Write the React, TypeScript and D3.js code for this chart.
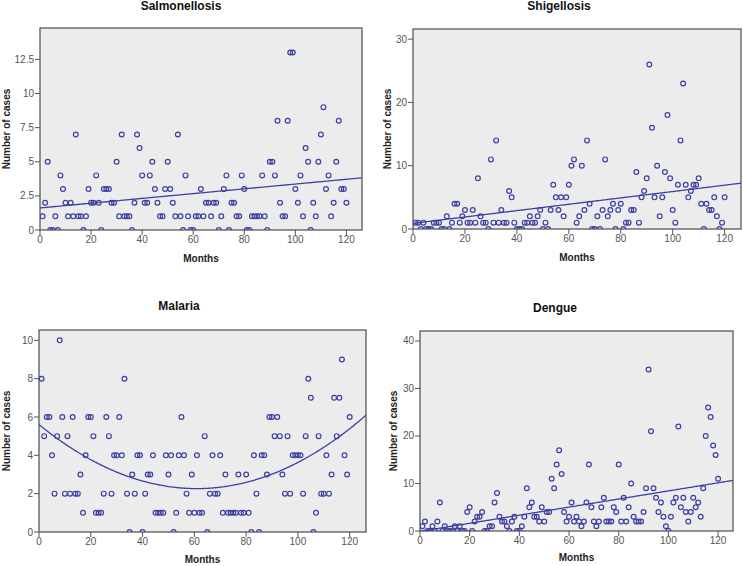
import React from 'react';
import * as d3 from 'd3';

// months 1..120 on the x axis
const months = d3.range(1, 121);

const salmonellosis = [
  1, 2, 5, 0, 0, 1, 0, 4, 3, 2, 1, 2, 1, 7, 1, 1, 0, 1, 3, 2,
  2, 4, 2, 0, 3, 3, 3, 2, 2, 5, 1, 7, 1, 1, 1, 0, 2, 7, 6, 4,
  2, 2, 4, 5, 3, 2, 1, 1, 3, 5, 3, 2, 1, 7, 1, 0, 4, 1, 0, 0,
  1, 1, 3, 1, 2, 2, 1, 2, 2, 0, 1, 3, 4, 0, 2, 2, 1, 1, 4, 3,
  0, 0, 1, 1, 1, 1, 4, 1, 0, 5, 5, 4, 8, 2, 1, 1, 8, 13, 13, 3,
  2, 4, 1, 6, 5, 0, 2, 1, 5, 7, 9, 3, 4, 1, 2, 5, 8, 3, 3, 2,
];

const shigellosis = [
  1, 1, 0, 1, 0, 0, 0, 1, 1, 1, 0, 0, 2, 0, 1, 4, 4, 1, 2, 3,
  1, 1, 3, 1, 8, 2, 1, 1, 0, 11, 1, 14, 1, 3, 1, 1, 6, 5, 1, 0,
  0, 0, 1, 1, 2, 1, 1, 2, 3, 0, 1, 0, 3, 7, 5, 3, 5, 2, 5, 7,
  10, 11, 1, 2, 10, 3, 14, 4, 0, 0, 2, 0, 3, 11, 2, 3, 4, 0, 3, 4,
  0, 1, 1, 3, 3, 9, 1, 5, 6, 8, 26, 16, 5, 10, 2, 5, 9, 18, 8, 3,
  1, 7, 14, 23, 7, 5, 6, 7, 7, 8, 4, 0, 4, 3, 3, 5, 2, 0, 1, 5,
];

const malaria = [
  8, 5, 6, 6, 4, 2, 5, 10, 6, 2, 5, 2, 6, 2, 2, 3, 1, 4, 6, 6,
  5, 1, 1, 1, 2, 6, 5, 2, 4, 4, 6, 4, 8, 2, 0, 3, 2, 4, 4, 0,
  2, 3, 3, 4, 1, 1, 1, 1, 4, 3, 4, 0, 1, 4, 6, 4, 2, 1, 3, 1,
  4, 1, 1, 5, 0, 2, 4, 2, 2, 4, 1, 3, 1, 1, 1, 1, 3, 1, 1, 3,
  1, 0, 4, 2, 0, 4, 4, 3, 6, 6, 5, 6, 5, 3, 2, 5, 2, 4, 4, 4,
  4, 2, 5, 8, 7, 0, 1, 5, 2, 2, 4, 2, 3, 7, 5, 7, 9, 4, 3, 6,
];

const dengue = [
  1, 2, 0, 0, 1, 0, 2, 6, 0, 1, 0, 0, 0, 1, 0, 1, 0, 0, 4, 5,
  0, 2, 3, 3, 4, 0, 0, 1, 1, 6, 8, 3, 2, 2, 1, 0, 2, 3, 0, 0,
  1, 3, 9, 5, 6, 3, 3, 2, 5, 2, 4, 4, 11, 9, 14, 17, 12, 4, 2, 3,
  6, 2, 3, 2, 1, 2, 6, 14, 5, 2, 1, 2, 5, 7, 2, 2, 2, 5, 4, 14,
  2, 7, 2, 5, 10, 3, 2, 2, 2, 4, 9, 34, 21, 9, 7, 4, 6, 3, 1, 0,
  3, 6, 7, 22, 5, 7, 4, 2, 4, 7, 5, 6, 3, 9, 20, 26, 24, 18, 16, 11,
];

const xTicks = [0, 20, 40, 60, 80, 100, 120];
const salmonellosisTicks = [0, 2.5, 5, 7.5, 10, 12.5];
const shigellosisTicks = [0, 10, 20, 30];
const malariaTicks = [0, 2, 4, 6, 8, 10];
const dengueTicks = [0, 10, 20, 30, 40];

const BLUE = '#3d40a3';
const FONT = '"Liberation Sans", Arial, sans-serif';

// least squares polynomial fit (degree 1 or 2)
function polyFit(xs, ys, degree) {
  const n = degree + 1;
  const A = d3.range(n).map(i => d3.range(n).map(j => d3.sum(xs, x => Math.pow(x, i + j))));
  const b = d3.range(n).map(i => d3.sum(xs, (x, k) => Math.pow(x, i) * ys[k]));
  // gaussian elimination
  for (let c = 0; c < n; c++) {
    for (let r = c + 1; r < n; r++) {
      const f = A[r][c] / A[c][c];
      for (let k = c; k < n; k++) A[r][k] -= f * A[c][k];
      b[r] -= f * b[c];
    }
  }
  const coef = new Array(n).fill(0);
  for (let r = n - 1; r >= 0; r--) {
    let s = b[r];
    for (let k = r + 1; k < n; k++) s -= A[r][k] * coef[k];
    coef[r] = s / A[r][r];
  }
  return x => coef.reduce((acc, c, i) => acc + c * Math.pow(x, i), 0);
}

const panels = [
  {
    id: 'salm', title: 'Salmonellosis', values: salmonellosis, yTicks: salmonellosisTicks,
    degree: 1, xMax: 126.1, yMax: 14.8,
    frame: [40, 28, 362, 230], titleX: 181, titleY: 10, xLabelY: 262, yLabelX: 10,
  },
  {
    id: 'shig', title: 'Shigellosis', values: shigellosis, yTicks: shigellosisTicks,
    degree: 1, xMax: 126.3, yMax: 31.6,
    frame: [413, 29, 741, 229], titleX: 559, titleY: 10, xLabelY: 261, yLabelX: 391,
  },
  {
    id: 'mal', title: 'Malaria', values: malaria, yTicks: malariaTicks,
    degree: 2, xMax: 126.3, yMax: 10.54,
    frame: [39, 330, 366, 532], titleX: 179, titleY: 310, xLabelY: 563, yLabelX: 10,
  },
  {
    id: 'den', title: 'Dengue', values: dengue, yTicks: dengueTicks,
    degree: 1, xMax: 126, yMax: 42.1,
    frame: [420, 331, 733, 531], titleX: 555, titleY: 312, xLabelY: 561, yLabelX: 397,
  },
];

const Panel = ({ p }) => {
  const [x0, y0, x1, y1] = p.frame;
  const x = d3.scaleLinear().domain([0, p.xMax]).range([x0, x1]);
  const y = d3.scaleLinear().domain([0, p.yMax]).range([y1, y0]);
  const fit = polyFit(months, p.values, p.degree);
  const line = d3.line().x(d => x(d)).y(d => y(fit(d)));
  const fitPath = line(d3.range(0, p.xMax + 0.5, 0.5));
  return (
    <g>
      <defs>
        <clipPath id={`clip-${p.id}`}>
          <rect x={x0} y={y0} width={x1 - x0} height={y1 - y0} />
        </clipPath>
      </defs>
      <text x={p.titleX} y={p.titleY} textAnchor="middle" fontFamily={FONT} fontWeight="bold" fontSize={12} fill="#111">{p.title}</text>
      <rect x={x0} y={y0} width={x1 - x0} height={y1 - y0} fill="#ececec" stroke="#5a5a5a" strokeWidth={1.3} />
      {p.yTicks.map(t => (
        <g key={`y${t}`}>
          <line x1={x0 - 5} x2={x0} y1={y(t)} y2={y(t)} stroke="#555" strokeWidth={1} />
          <text x={x0 - 6} y={y(t)} dy="0.35em" textAnchor="end" fontFamily={FONT} fontSize={10} fill="#555">{t}</text>
        </g>
      ))}
      {xTicks.map(t => (
        <g key={`x${t}`}>
          <line x1={x(t)} x2={x(t)} y1={y1} y2={y1 + 5} stroke="#555" strokeWidth={1} />
          <text x={x(t)} y={y1 + 13} textAnchor="middle" fontFamily={FONT} fontSize={10} fill="#555">{t}</text>
        </g>
      ))}
      <text x={(x0 + x1) / 2} y={p.xLabelY} textAnchor="middle" fontFamily={FONT} fontWeight="bold" fontSize={10} fill="#222">Months</text>
      <text transform={`translate(${p.yLabelX},${(y0 + y1) / 2}) rotate(-90)`} textAnchor="middle" fontFamily={FONT} fontWeight="bold" fontSize={10} fill="#222">Number of cases</text>
      <g clipPath={`url(#clip-${p.id})`}>
        <path d={fitPath} fill="none" stroke={BLUE} strokeWidth={1.3} />
        {p.values.map((v, i) => (
          <circle key={i} cx={x(months[i])} cy={y(v)} r={2.4} fill="none" stroke={BLUE} strokeWidth={1.2} />
        ))}
      </g>
    </g>
  );
};

export default function App() {
  return (
    <svg width={743} height={566} style={{ position: 'absolute', left: 0, top: 0, background: '#fff' }}>
      {panels.map(p => <Panel key={p.id} p={p} />)}
    </svg>
  );
}
